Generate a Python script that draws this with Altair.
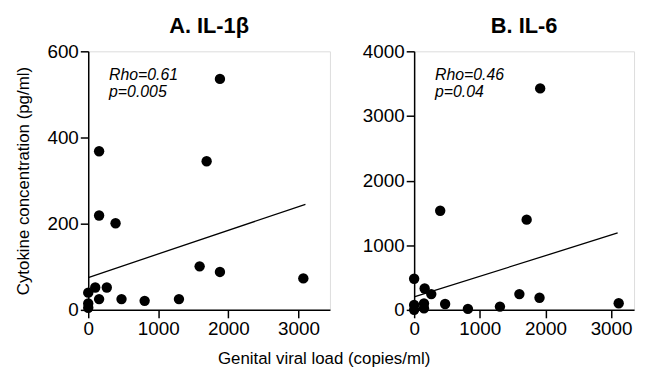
import altair as alt
import pandas as pd

# Panel A: IL-1beta
a_load = [0, 0, 0, 100, 155, 155, 155, 265, 390, 475, 805, 1295, 1590, 1690, 1880, 1880, 3070]
a_cyto = [40, 15, 5, 52, 25, 219, 368, 52, 201, 25, 21, 25, 101, 345, 536, 88, 73]
a_fit_x = [0, 3100]
a_fit_y = [75, 245]

# Panel B: IL-6
b_load = [0, 0, 0, 150, 150, 160, 261, 397, 472, 819, 1307, 1603, 1714, 1910, 1920, 3116]
b_cyto = [482, 76, 0, 100, 25, 330, 244, 1533, 91, 15, 51, 244, 1396, 188, 3426, 102]
b_fit_x = [0, 3100]
b_fit_y = [200, 1190]

FONT = "Liberation Sans"
LBL = 19


def panel(lx, ly, fx, fy, title, ymax, ystep, xmax, width, rho, pval, ytitle):
    pts = pd.DataFrame({"load": lx, "cyto": ly})
    fit = pd.DataFrame({"load": fx, "cyto": fy})
    xscale = alt.Scale(domain=[0, xmax], nice=False, zero=True)
    yscale = alt.Scale(domain=[0, ymax], nice=False)
    common = dict(labelFlush=False, format="d", labelFontSize=LBL, labelFont=FONT,
                  labelColor="black", domainColor="black", tickColor="black",
                  domainWidth=1.5, tickWidth=1.5, tickSize=8, grid=False, labelPadding=2)
    xaxis = alt.Axis(values=[0, 1000, 2000, 3000], title=None, **common)
    if ytitle:
        yaxis = alt.Axis(values=list(range(0, ymax + 1, ystep)), title=ytitle,
                         titleFontSize=17, titleFont=FONT, titleFontWeight="normal",
                         titleColor="black", titlePadding=15, **common)
    else:
        yaxis = alt.Axis(values=list(range(0, ymax + 1, ystep)), title=None, **common)

    line = alt.Chart(fit).mark_line(color="black", strokeWidth=1.3).encode(
        x=alt.X("load:Q", scale=xscale, axis=xaxis),
        y=alt.Y("cyto:Q", scale=yscale, axis=yaxis),
    )
    dots = alt.Chart(pts).mark_circle(color="black", opacity=1, size=110, clip=False).encode(
        x=alt.X("load:Q", scale=xscale),
        y=alt.Y("cyto:Q", scale=yscale),
    )
    txt = dict(align="left", baseline="middle", fontStyle="italic", fontSize=16,
               font=FONT, color="black")
    ann1 = alt.Chart(pd.DataFrame({"t": [rho]})).mark_text(**txt).encode(
        x=alt.value(21), y=alt.value(24), text="t:N")
    ann2 = alt.Chart(pd.DataFrame({"t": [pval]})).mark_text(**txt).encode(
        x=alt.value(21), y=alt.value(41), text="t:N")
    return alt.layer(line, dots, ann1, ann2).properties(
        width=width, height=261,
        title=alt.TitleParams(title, fontSize=22, font=FONT, fontWeight="bold",
                              color="black", anchor="middle", offset=4),
    )


pa = panel(a_load, a_cyto, a_fit_x, a_fit_y, "A.  IL-1β", 600, 200, 3450, 244,
           "Rho=0.61", "p=0.005", "Cytokine concentration (pg/ml)")
pb = panel(b_load, b_cyto, b_fit_x, b_fit_y, "B.  IL-6", 4000, 1000, 3350, 222,
           "Rho=0.46", "p=0.04", None)

chart = alt.hconcat(pa, pb, spacing=31).properties(
    title=alt.TitleParams("Genital viral load (copies/ml)", orient="bottom",
                          anchor="middle", fontSize=17, font=FONT,
                          fontWeight="normal", color="black", offset=12)
).configure_view(stroke=None).configure(background="white")

chart.save("out.html", embed_options={"renderer": "svg", "actions": False})
